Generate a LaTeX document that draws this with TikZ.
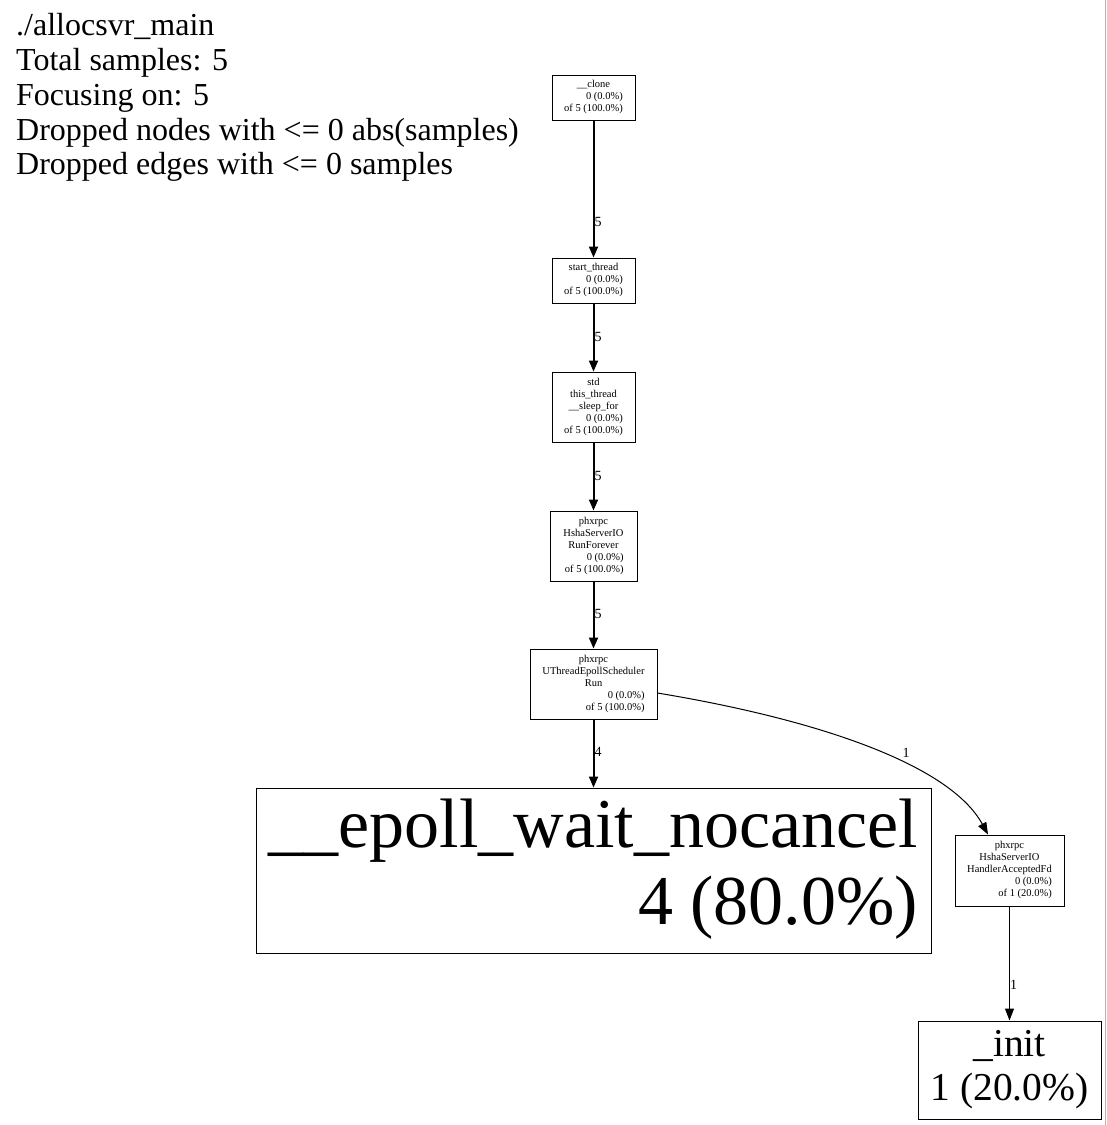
\documentclass[tikz,border=0pt]{standalone}
\usepackage{fontspec}
\setmainfont{Liberation Serif}
\usetikzlibrary{arrows.meta}
\newcommand\nodefont{\fontsize{10.5}{12}\selectfont}
\newcommand\pcell[2]{\begin{tabular}{@{}r@{}}#1#2\end{tabular}}
\newcommand\ctr[1]{\multicolumn{1}{@{}c@{}}{#1}\\}
\begin{document}
\begin{tikzpicture}[x=1pt,y=-1pt,
  box/.style={draw, line width=1pt, inner sep=0pt, rectangle},
  smallbox/.style={box, font=\nodefont},
  thickedge/.style={line width=2pt, -{Triangle[length=11pt,width=9pt]}},
  thinedge/.style={line width=1pt, -{Triangle[length=12pt,width=9pt]}},
  elabel/.style={font=\fontsize{14}{16}\selectfont, anchor=west, inner sep=0pt},
  legend/.style={font=\fontsize{32}{35}\selectfont, anchor=base west, inner sep=0pt}]
\useasboundingbox[fill=white] (0,0) rectangle (1107,1125);
\draw[gray!60, line width=1.5pt] (1105.5,0) -- (1105.5,1125);

% legend
\node[legend] (lg1) at (16,35) {./allocsvr\_main};
\node[legend] (lg2) at (16,70) {Total samples: 5};
\node[legend] (lg3) at (16,105) {Focusing on: 5};
\node[legend] (lg4) at (16,140) {Dropped nodes with <= 0 abs(samples)};
\node[legend] (lg5) at (16,174) {Dropped edges with <= 0 samples};

% nodes
\node[smallbox, minimum width=83pt, minimum height=45pt] (clone) at (593.5,97.5)
  {\pcell{\ctr{\_\_clone}}{0 (0.0\%)\\of 5 (100.0\%)}};
\node[smallbox, minimum width=83pt, minimum height=45pt] (start) at (593.5,280.5)
  {\pcell{\ctr{start\_thread}}{0 (0.0\%)\\of 5 (100.0\%)}};
\node[smallbox, minimum width=83pt, minimum height=70pt] (std) at (593.5,407)
  {\pcell{\ctr{std}\ctr{this\_thread}\ctr{\_\_sleep\_for}}{0 (0.0\%)\\of 5 (100.0\%)}};
\node[smallbox, minimum width=87pt, minimum height=70pt] (run) at (593.5,546)
  {\pcell{\ctr{phxrpc}\ctr{HshaServerIO}\ctr{RunForever}}{0 (0.0\%)\\of 5 (100.0\%)}};
\node[smallbox, minimum width=127pt, minimum height=70pt] (uth) at (593.5,684)
  {\pcell{\ctr{phxrpc}\ctr{UThreadEpollScheduler}\ctr{Run}}{0 (0.0\%)\\of 5 (100.0\%)}};
\node[box, minimum width=675pt, minimum height=165pt, font=\fontsize{70}{77}\selectfont] (epoll) at (593.5,870.5)
  {\pcell{\ctr{\_\_epoll\_wait\_nocancel}}{4 (80.0\%)}};
\node[smallbox, minimum width=109pt, minimum height=71pt] (hand) at (1009.5,870.5)
  {\pcell{\ctr{phxrpc}\ctr{HshaServerIO}\ctr{HandlerAcceptedFd}}{0 (0.0\%)\\of 1 (20.0\%)}};
\node[box, minimum width=183pt, minimum height=98pt, font=\fontsize{39.5}{44}\selectfont] (init) at (1009.5,1070)
  {\pcell{\ctr{\_init}}{1 (20.0\%)}};

% edges
\draw[thickedge] (clone) -- (start) node[elabel, pos=0.74] (e1) {5};
\draw[thickedge] (start) -- (std) node[elabel, pos=0.49] (e2) {5};
\draw[thickedge] (std) -- (run) node[elabel, pos=0.49] (e3) {5};
\draw[thickedge] (run) -- (uth) node[elabel, pos=0.49] (e4) {5};
\draw[thickedge] (uth) -- (epoll) node[elabel, pos=0.48] (e5) {4};
\draw[thinedge] ([yshift=-9pt]uth.east) .. controls (820,720) and (950,765) .. ([xshift=-21.5pt]hand.north)
  node[elabel, pos=0.6, anchor=south west, yshift=4pt] (e6) {1};
\draw[thinedge] (hand) -- (init) node[elabel, pos=0.69] (e7) {1};
\end{tikzpicture}
\end{document}
